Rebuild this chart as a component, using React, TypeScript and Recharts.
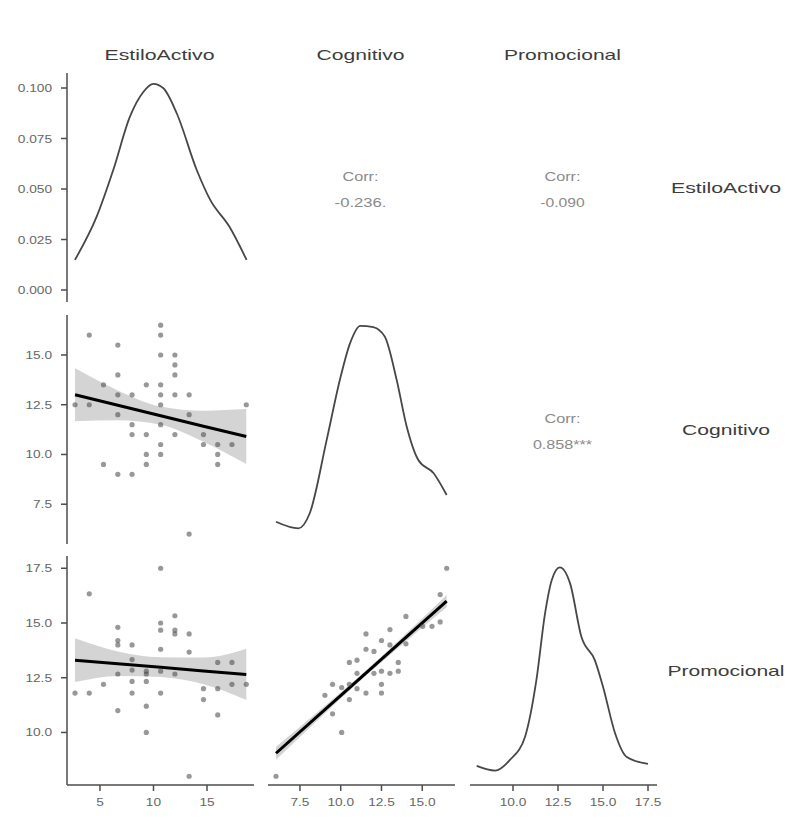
import { ComposedChart, LineChart, Line, Area, Scatter, XAxis, YAxis } from 'recharts'

const variables = ['EstiloActivo', 'Cognitivo', 'Promocional']

// raw observations shown in the lower triangle, [x, y]
const activoVsCognitivo: [number, number][] = [
  [4.0, 16.0], [6.67, 15.5], [10.67, 16.5], [10.67, 16.0], [10.67, 15.0], [12.0, 15.0],
  [12.0, 14.5], [12.0, 14.0], [6.67, 14.0], [5.33, 13.5], [9.33, 13.5], [10.67, 13.5],
  [6.67, 13.0], [8.0, 13.0], [10.67, 13.0], [12.0, 13.0], [13.33, 13.0], [2.67, 12.5],
  [4.0, 12.5], [10.67, 12.5], [18.67, 12.5], [6.67, 12.0], [13.33, 12.0], [8.0, 11.5],
  [10.67, 11.5], [8.0, 11.0], [9.33, 11.0], [12.0, 11.0], [14.67, 11.0], [14.67, 10.5],
  [16.0, 10.5], [17.33, 10.5], [10.67, 10.5], [9.33, 10.0], [10.67, 10.0], [16.0, 10.0],
  [5.33, 9.5], [9.33, 9.5], [16.0, 9.5], [6.67, 9.0], [8.0, 9.0], [13.33, 6.0],
]

const activoVsPromocional: [number, number][] = [
  [4.0, 16.33], [10.67, 17.5], [10.67, 15.0], [10.67, 14.67], [12.0, 15.33], [12.0, 14.67],
  [12.0, 14.5], [13.33, 14.5], [6.67, 14.8], [6.67, 14.2], [6.67, 14.0], [8.0, 14.0],
  [10.67, 13.8], [13.33, 13.67], [8.0, 13.33], [16.0, 13.2], [17.33, 13.2], [6.67, 12.67],
  [8.0, 12.85], [9.33, 12.8], [9.33, 12.67], [10.67, 12.8], [12.0, 12.67], [2.67, 11.8],
  [4.0, 11.8], [5.33, 12.2], [8.0, 12.33], [8.0, 11.8], [9.33, 12.33], [10.67, 11.8],
  [14.67, 12.0], [16.0, 12.0], [17.33, 12.2], [18.67, 12.2], [14.67, 11.5], [6.67, 11.0],
  [9.33, 11.2], [16.0, 10.8], [9.33, 10.0], [13.33, 8.0],
]

const cognitivoVsPromocional: [number, number][] = [
  [6.03, 8.0], [10.06, 10.0], [9.5, 10.85], [9.03, 11.7], [9.5, 12.2], [10.06, 12.05],
  [10.53, 11.5], [10.53, 13.2], [11.0, 13.3], [11.0, 12.7], [10.53, 12.2], [11.0, 12.0],
  [11.55, 11.8], [11.55, 14.5], [11.55, 13.8], [12.04, 13.7], [12.04, 12.7], [12.5, 14.2],
  [12.5, 12.8], [12.5, 12.2], [12.5, 11.8], [13.02, 14.7], [13.02, 14.0], [13.02, 12.7],
  [13.53, 13.2], [13.53, 12.8], [14.0, 15.3], [14.0, 14.05], [15.03, 14.85], [15.6, 14.85],
  [16.1, 15.05], [16.1, 16.3], [16.5, 17.5],
]

// lm fits with 95% confidence band
const fitActivoCognitivo = [
  { x: 2.67, fit: 13.0, lo: 11.67, hi: 14.33 },
  { x: 6.67, fit: 12.47, lo: 11.72, hi: 13.22 },
  { x: 10.67, fit: 11.95, lo: 11.49, hi: 12.41 },
  { x: 14.67, fit: 11.42, lo: 10.64, hi: 12.2 },
  { x: 18.67, fit: 10.9, lo: 9.52, hi: 12.28 },
]

const fitActivoPromocional = [
  { x: 2.67, fit: 13.3, lo: 12.3, hi: 14.3 },
  { x: 6.67, fit: 13.14, lo: 12.58, hi: 13.7 },
  { x: 10.67, fit: 12.98, lo: 12.53, hi: 13.43 },
  { x: 14.67, fit: 12.81, lo: 12.2, hi: 13.42 },
  { x: 18.67, fit: 12.65, lo: 11.48, hi: 13.82 },
]

const fitCognitivoPromocional = [
  { x: 6.03, fit: 9.05, lo: 8.75, hi: 9.35 },
  { x: 8.65, fit: 10.79, lo: 10.6, hi: 10.98 },
  { x: 11.27, fit: 12.53, lo: 12.41, hi: 12.65 },
  { x: 13.88, fit: 14.26, lo: 14.09, hi: 14.43 },
  { x: 16.5, fit: 16.0, lo: 15.72, hi: 16.28 },
]

// kernel densities on the diagonal
const densActivo = [
  { x: 2.66, d: 0.0149 }, { x: 4.69, d: 0.0363 }, { x: 6.24, d: 0.0594 }, { x: 7.8, d: 0.0858 },
  { x: 9.05, d: 0.098 }, { x: 9.98, d: 0.102 }, { x: 10.9, d: 0.1 }, { x: 12.17, d: 0.0875 },
  { x: 14.04, d: 0.0594 }, { x: 15.3, d: 0.0446 }, { x: 17.1, d: 0.0313 }, { x: 18.7, d: 0.0149 },
]

const densCognitivo = [
  { x: 6.03, d: 0.0247 }, { x: 7.4, d: 0.0198 }, { x: 8.1, d: 0.031 }, { x: 9.14, d: 0.0854 },
  { x: 9.95, d: 0.13 }, { x: 10.57, d: 0.157 }, { x: 11.2, d: 0.17 }, { x: 12.0, d: 0.169 },
  { x: 12.7, d: 0.162 }, { x: 13.43, d: 0.13 }, { x: 14.05, d: 0.0952 }, { x: 14.76, d: 0.0705 },
  { x: 15.7, d: 0.0607 }, { x: 16.5, d: 0.0445 },
]

const densPromocional = [
  { x: 7.98, d: 0.0243 }, { x: 9.0, d: 0.0199 }, { x: 9.83, d: 0.0299 }, { x: 10.67, d: 0.0517 },
  { x: 11.3, d: 0.1047 }, { x: 11.78, d: 0.167 }, { x: 12.15, d: 0.198 }, { x: 12.6, d: 0.21 },
  { x: 13.17, d: 0.195 }, { x: 13.8, d: 0.145 }, { x: 14.55, d: 0.123 }, { x: 15.0, d: 0.0984 },
  { x: 15.67, d: 0.0549 }, { x: 16.3, d: 0.033 }, { x: 17.5, d: 0.0262 },
]

const corrCells = [
  { row: 0, col: 1, value: '-0.236.' },
  { row: 0, col: 2, value: '-0.090' },
  { row: 1, col: 2, value: '0.858***' },
]

const xTicks = [[5, 10, 15], [7.5, 10, 12.5, 15], [10, 12.5, 15, 17.5]]
const yTicks = [[0, 0.025, 0.05, 0.075, 0.1], [7.5, 10, 12.5, 15], [10, 12.5, 15, 17.5]]

// layout
const W = 187
const H = 229
const AXIS_W = 60
const AXIS_H = 34
const PAD_R = 14 // room for the last x tick label
const colLeft = [67, 268, 470]
const rowTop = [73, 315, 556]
const xDomains: [number, number][] = [[1.92, 19.39], [5.54, 17.01], [7.61, 18.0]]
const yDomains: [number, number][] = [[-0.00594, 0.10743], [5.5, 17.01], [7.6, 18.06]]
const diagDomains: [number, number][] = [[-0.00594, 0.10743], [0.0082, 0.178], [0.0065, 0.2206]]

const AXIS_COLOR = '#4d4d4d'
const FONT = '"Liberation Sans", Arial, sans-serif'

const charW = (s: string) =>
  s.split('').reduce((w, c) => w + (c === '.' ? 3.8 : c === '-' ? 4.5 : 7.6), 0)

const fmtX = (col: number) => (v: number) => (col === 0 ? String(v) : v.toFixed(1))
const fmtY = (row: number) => (v: number) => (row === 0 ? v.toFixed(3) : v.toFixed(1))

// eslint-disable-next-line @typescript-eslint/no-explicit-any
function XTick({ x, y, payload, col }: any) {
  const label = fmtX(col)(payload.value)
  return (
    <text x={x} y={y + 12} textAnchor="middle" fontSize={11.5} fill="#666" fontFamily={FONT}
      textLength={charW(label)} lengthAdjust="spacingAndGlyphs">
      {label}
    </text>
  )
}

// eslint-disable-next-line @typescript-eslint/no-explicit-any
function YTick({ x, y, payload, row }: any) {
  const label = fmtY(row)(payload.value)
  return (
    <text x={x} y={y + 4} textAnchor="end" fontSize={11.5} fill="#666" fontFamily={FONT}
      textLength={charW(label)} lengthAdjust="spacingAndGlyphs">
      {label}
    </text>
  )
}

// eslint-disable-next-line @typescript-eslint/no-explicit-any
const dot = (p: any) => <circle cx={p.cx} cy={p.cy} r={2.6} fill="#444" fillOpacity={0.55} />

function axes(row: number, col: number, yDomain: [number, number]) {
  const showX = row === 2
  const showY = col === 0
  return [
    <XAxis key="x" type="number" dataKey="x" domain={xDomains[col]} allowDataOverflow
      hide={!showX} height={AXIS_H} ticks={xTicks[col]} interval={0}
      axisLine={{ stroke: AXIS_COLOR, strokeWidth: 1.5 }}
      tickLine={{ stroke: AXIS_COLOR, strokeWidth: 1.5 }} tickSize={6} tickMargin={3}
      tick={<XTick col={col} />} />,
    <YAxis key="y" type="number" domain={yDomain} allowDataOverflow
      hide={!showY} width={AXIS_W} ticks={yTicks[row]} interval={0}
      axisLine={{ stroke: AXIS_COLOR, strokeWidth: 1.5 }}
      tickLine={{ stroke: AXIS_COLOR, strokeWidth: 1.5 }} tickSize={6} tickMargin={9}
      tick={<YTick row={row} />} />,
  ]
}

function frame(row: number, col: number) {
  const showX = row === 2
  const showY = col === 0
  return {
    left: colLeft[col] - (showY ? AXIS_W : 0),
    top: rowTop[row],
    width: W + (showY ? AXIS_W : 0) + PAD_R,
    height: H + (showX ? AXIS_H : 0),
  }
}

const margin = { top: 0, right: PAD_R, bottom: 0, left: 0 }

function ScatterPanel({ row, col, points, fit }: {
  row: number; col: number; points: [number, number][]
  fit: { x: number; fit: number; lo: number; hi: number }[]
}) {
  const f = frame(row, col)
  const pts = points.map(([x, y]) => ({ x, y }))
  const band = fit.map((r) => ({ ...r, band: [r.lo, r.hi] }))
  return (
    <div style={{ position: 'absolute', left: f.left, top: f.top }}>
      <ComposedChart width={f.width} height={f.height} data={band} margin={margin}>
        {axes(row, col, yDomains[row])}
        <Scatter data={pts} dataKey="y" shape={dot} isAnimationActive={false} />
        <Area dataKey="band" type="monotone" stroke="none" fill="#999" fillOpacity={0.42}
          isAnimationActive={false} activeDot={false} />
        <Line dataKey="fit" type="linear" stroke="#000" strokeWidth={3} dot={false}
          activeDot={false} isAnimationActive={false} />
      </ComposedChart>
    </div>
  )
}

function DensityPanel({ idx, data }: { idx: number; data: { x: number; d: number }[] }) {
  const f = frame(idx, idx)
  return (
    <div style={{ position: 'absolute', left: f.left, top: f.top }}>
      <LineChart width={f.width} height={f.height} data={data} margin={margin}>
        {axes(idx, idx, diagDomains[idx])}
        <Line dataKey="d" type="monotone" stroke="#474747" strokeWidth={1.8} dot={false}
          activeDot={false} isAnimationActive={false} />
      </LineChart>
    </div>
  )
}

const stripLengths = [110, 88, 117]

export default function App() {
  return (
    <div style={{ position: 'absolute', left: 0, top: 0, width: 787, height: 817, background: '#fff' }}>
      <DensityPanel idx={0} data={densActivo} />
      <DensityPanel idx={1} data={densCognitivo} />
      <DensityPanel idx={2} data={densPromocional} />
      <ScatterPanel row={1} col={0} points={activoVsCognitivo} fit={fitActivoCognitivo} />
      <ScatterPanel row={2} col={0} points={activoVsPromocional} fit={fitActivoPromocional} />
      <ScatterPanel row={2} col={1} points={cognitivoVsPromocional} fit={fitCognitivoPromocional} />

      <svg width={787} height={817} style={{ position: 'absolute', left: 0, top: 0, pointerEvents: 'none' }}
        fontFamily={FONT}>
        {variables.map((v, i) => (
          <text key={'top' + v} x={colLeft[i] + W / 2 - 1} y={60} textAnchor="middle" fontSize={15}
            fill="#3d3d3d" textLength={stripLengths[i]} lengthAdjust="spacingAndGlyphs">
            {v}
          </text>
        ))}
        {variables.map((v, i) => (
          <text key={'side' + v} x={726} y={rowTop[i] + H / 2 + 5} textAnchor="middle" fontSize={15}
            fill="#3d3d3d" textLength={stripLengths[i]} lengthAdjust="spacingAndGlyphs">
            {v}
          </text>
        ))}
        {corrCells.map((c) => {
          const cx = colLeft[c.col] + W / 2 - 1
          const cy = rowTop[c.row] + H / 2
          return (
            <g key={c.row + '-' + c.col} fill="#8a8a8a" fontSize={12.5} textAnchor="middle">
              <text x={cx} y={cy - 7} textLength={36} lengthAdjust="spacingAndGlyphs">Corr:</text>
              <text x={cx} y={cy + 19} textLength={c.value.length * 7.4} lengthAdjust="spacingAndGlyphs">
                {c.value}
              </text>
            </g>
          )
        })}
      </svg>
    </div>
  )
}
